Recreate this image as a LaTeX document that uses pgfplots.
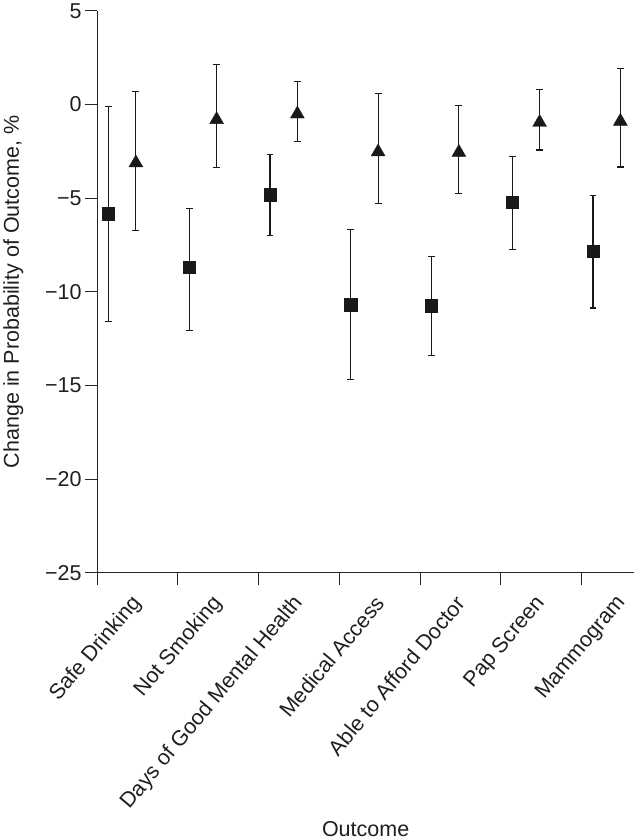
\documentclass[border=0pt]{standalone}
\usepackage{pgfplots}
\pgfplotsset{compat=1.18}
\usepackage{fontspec}
\setmainfont{Liberation Sans}
\begin{document}
\begin{tikzpicture}
\begin{axis}[
  scale only axis,
  width=537pt, height=562pt,
  xmin=0, xmax=6.65, ymin=-25, ymax=5,
  axis x line*=bottom, axis y line*=left,
  axis line style={line width=1.2pt, black!85},
  clip=false,
  tick align=outside,
  major tick length=12pt,
  tick style={line width=1.2pt, black!85},
  ytick={-25,-20,-15,-10,-5,0,5},
  yticklabels={−25,−20,−15,−10,−5,0,5},
  xtick={0,1,2,3,4,5,6},
  xticklabels={},
  extra x ticks={0.5,1.5,2.5,3.5,4.5,5.5,6.5},
  extra x tick labels={Safe Drinking,Not Smoking,Days of Good Mental Health,Medical Access,Able to Afford Doctor,Pap Screen,Mammogram},
  extra x tick style={tick style={draw=none}, xticklabel style={yshift=-12pt, xshift=2pt, rotate=50, anchor=east}},
  tick label style={font=\fontsize{21.5}{24}\selectfont, text=black!88},
  every axis y label/.style={at={(axis description cs:-0.156,0.5)}, rotate=90, anchor=center},
  every axis x label/.style={at={(axis description cs:0.5,-0.456)}, anchor=center},
  label style={font=\fontsize{21.5}{24}\selectfont, text=black!88},
  ylabel={Change in Probability of Outcome, \%},
  xlabel={Outcome},
]
\addplot+[only marks, mark=square*, mark size=6.2pt, black!90, mark options={fill=black!90, draw=black!90},
  error bars/.cd, y dir=both, y explicit, error mark=|, error mark options={mark size=3.4pt, line width=1.2pt, black!90},
  error bar style={line width=1.2pt, black!90}]
coordinates {
 (0.14,-5.82) += (0,5.71) -= (0,5.78)
 (1.14,-8.68) += (0,3.14) -= (0,3.38)
 (2.14,-4.82) += (0,2.16) -= (0,2.18)
 (3.14,-10.68) += (0,4.02) -= (0,4.02)
 (4.14,-10.75) += (0,2.64) -= (0,2.65)
 (5.14,-5.23) += (0,2.46) -= (0,2.52)
 (6.14,-7.84) += (0,3.00) -= (0,3.02)
};
\addplot+[only marks, mark=triangle*, mark size=8pt, black!90, mark options={fill=black!90, draw=black!90},
  error bars/.cd, y dir=both, y explicit, error mark=|, error mark options={mark size=3.4pt, line width=1.2pt, black!90},
  error bar style={line width=1.2pt, black!90}]
coordinates {
 (0.48,-3.12) += (0,3.83) -= (0,3.60)
 (1.48,-0.81) += (0,2.95) -= (0,2.55)
 (2.48,-0.51) += (0,1.74) -= (0,1.47)
 (3.48,-2.53) += (0,3.10) -= (0,2.74)
 (4.48,-2.56) += (0,2.49) -= (0,2.19)
 (5.48,-0.96) += (0,1.76) -= (0,1.47)
 (6.48,-0.90) += (0,2.81) -= (0,2.44)
};
\end{axis}
\end{tikzpicture}
\end{document}
